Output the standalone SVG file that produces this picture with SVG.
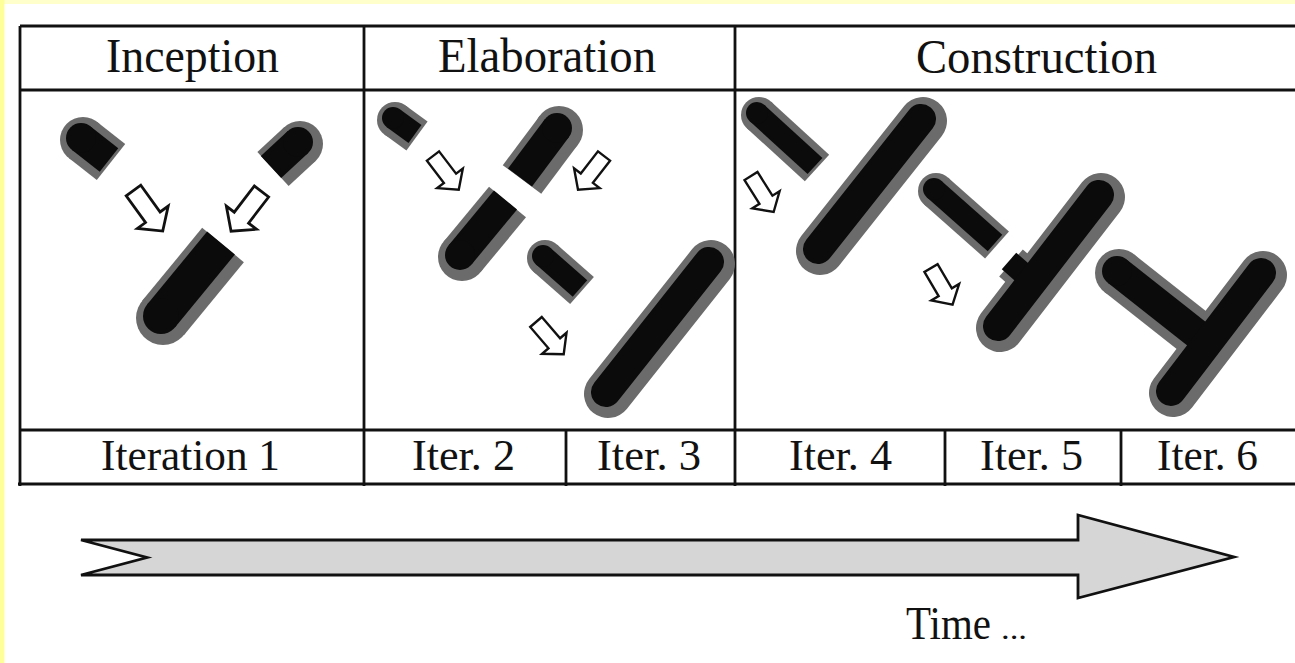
<svg xmlns="http://www.w3.org/2000/svg" xmlns:xlink="http://www.w3.org/1999/xlink" width="1295" height="663" viewBox="0 0 1295 663">
  <style>
    .txt { font-family: "Liberation Serif", "Times New Roman", serif; fill: #111; }
    .hdr { font-size: 48px; }
    .lbl { font-size: 45px; }
    .grid { stroke: #111; stroke-width: 2.8; fill: none; }
    .gy { fill: none; stroke: #6b6b6b; stroke-linecap: butt; marker-start: url(#capG); }
    .bk { fill: none; stroke: #0b0b0b; stroke-linecap: butt; marker-start: url(#capK); }
    .gy.r, .bk.r { stroke-linecap: round; marker-start: none; }
    .gy.n, .bk.n { marker-start: none; }
    .ar { fill: #fff; stroke: #111; stroke-width: 2.8; stroke-linejoin: miter; }
    .time { fill: #d6d6d6; stroke: #111; stroke-width: 2.8; stroke-linejoin: miter; }
  </style>
  <defs>
    <!-- round end for one side of a bar; scales with the stroke width -->
    <marker id="capG" viewBox="-1 -1 2 2" markerWidth="1" markerHeight="1" markerUnits="strokeWidth" overflow="visible">
      <circle r="1" fill="#6b6b6b"/>
    </marker>
    <marker id="capK" viewBox="-1 -1 2 2" markerWidth="1" markerHeight="1" markerUnits="strokeWidth" overflow="visible">
      <circle r="1" fill="#0b0b0b"/>
    </marker>
    <!-- hollow block arrow, tail at origin, pointing along +x -->
    <path id="arw" d="M0 -9 L33 -9 L33 -19 L50 0 L33 19 L33 9 L0 9 Z"/>
  </defs>

  <rect x="0" y="0" width="1295" height="663" fill="#fff"/>
  <rect x="0" y="0" width="1295" height="4" fill="#ffffcc"/>
  <rect x="0" y="0" width="4.5" height="663" fill="#ffff99"/>

  <!-- table grid -->
  <g id="grid" class="grid">
    <line x1="20" y1="26" x2="1295" y2="26"/>
    <line x1="20" y1="90" x2="1295" y2="90"/>
    <line x1="20" y1="430" x2="1295" y2="430"/>
    <line x1="18" y1="484" x2="1295" y2="484"/>
    <line x1="20" y1="26" x2="20" y2="486"/>
    <line x1="364" y1="26" x2="364" y2="486"/>
    <line x1="735" y1="26" x2="735" y2="486"/>
    <line x1="566" y1="430" x2="566" y2="486"/>
    <line x1="945" y1="430" x2="945" y2="486"/>
    <line x1="1121" y1="430" x2="1121" y2="486"/>
  </g>

  <!-- phase headers -->
  <g id="headers" class="txt hdr">
    <text x="106" y="72" textLength="173" lengthAdjust="spacingAndGlyphs">Inception</text>
    <text x="438" y="72" textLength="218" lengthAdjust="spacingAndGlyphs">Elaboration</text>
    <text x="916" y="73" textLength="241" lengthAdjust="spacingAndGlyphs">Construction</text>
  </g>

  <!-- iteration labels -->
  <g id="iterations" class="txt lbl">
    <text x="101" y="470" textLength="179" lengthAdjust="spacingAndGlyphs">Iteration 1</text>
    <text x="412" y="470" textLength="103" lengthAdjust="spacingAndGlyphs">Iter. 2</text>
    <text x="597" y="470" textLength="104" lengthAdjust="spacingAndGlyphs">Iter. 3</text>
    <text x="789" y="470" textLength="103" lengthAdjust="spacingAndGlyphs">Iter. 4</text>
    <text x="980" y="470" textLength="103" lengthAdjust="spacingAndGlyphs">Iter. 5</text>
    <text x="1157" y="470" textLength="101" lengthAdjust="spacingAndGlyphs">Iter. 6</text>
  </g>

  <!-- Inception cell -->
  <g id="cell-inception">
    <g id="p1a">
      <path class="gy" transform="translate(2 2)" stroke-width="46" d="M81 138 L109 160"/>
      <path class="bk" stroke-width="30" d="M81 138 L109 160"/>
    </g>
    <g id="p1b">
      <path class="gy" transform="translate(2 2)" stroke-width="46" d="M298 142 L271 167"/>
      <path class="bk" stroke-width="30" d="M298 142 L271 167"/>
    </g>
    <g id="p1c">
      <path class="gy" transform="translate(2 2)" stroke-width="54" d="M161 316 L221 243"/>
      <path class="bk" stroke-width="36" d="M161 316 L221 243"/>
    </g>
    <use xlink:href="#arw" class="ar" transform="translate(133.5 190.5) rotate(54.2)"/>
    <use xlink:href="#arw" class="ar" transform="translate(261.5 191.5) rotate(127.5)"/>
  </g>

  <!-- Elaboration cell -->
  <g id="cell-elaboration">
    <g id="p2a">
      <path class="gy" transform="translate(2 2)" stroke-width="36" d="M393 118 L415 134"/>
      <path class="bk" stroke-width="22" d="M393 118 L415 134"/>
    </g>
    <g id="p2b">
      <path class="gy" transform="translate(2 2)" stroke-width="48" d="M557 128 L520 177.5"/>
      <path class="bk" stroke-width="30" d="M557 128 L520 177.5"/>
    </g>
    <g id="p2c">
      <path class="gy" transform="translate(2 2)" stroke-width="48" d="M460 255 L505.5 200"/>
      <path class="bk" stroke-width="30" d="M460 255 L505.5 200"/>
    </g>
    <g id="p2d">
      <path class="gy" transform="translate(2 2)" stroke-width="36" d="M543 256 L580 288.5"/>
      <path class="bk" stroke-width="22" d="M543 256 L580 288.5"/>
    </g>
    <g id="p2e">
      <path class="gy r" transform="translate(2 2)" stroke-width="48" d="M606 392 L709 262"/>
      <path class="bk r" stroke-width="30" d="M606 392 L709 262"/>
    </g>
    <use xlink:href="#arw" class="ar" transform="translate(433 156) rotate(52.7) scale(0.85)"/>
    <use xlink:href="#arw" class="ar" transform="translate(604 156) rotate(127.7) scale(0.85)"/>
    <use xlink:href="#arw" class="ar" transform="translate(536 322) rotate(49.3) scale(0.85)"/>
  </g>

  <!-- Construction cell -->
  <g id="cell-construction">
    <g id="p3a">
      <path class="gy" transform="translate(2 2)" stroke-width="36" d="M757 113 L815 166"/>
      <path class="bk" stroke-width="22" d="M757 113 L815 166"/>
    </g>
    <g id="p3b">
      <path class="gy r" transform="translate(2 2)" stroke-width="48" d="M818 249 L921 119"/>
      <path class="bk r" stroke-width="30" d="M818 249 L921 119"/>
    </g>
    <g id="p3c">
      <path class="gy" transform="translate(2 2)" stroke-width="36" d="M934 189 L995 243"/>
      <path class="bk" stroke-width="22" d="M934 189 L995 243"/>
    </g>
    <g id="p3d">
      <path class="gy n" transform="translate(2 2)" stroke-width="36" d="M1009 261 L1032 281"/>
      <path class="gy r" transform="translate(2 2)" stroke-width="48" d="M998 326 L1099 195"/>
      <path class="bk n" stroke-width="22" d="M1009 261 L1032 281"/>
      <path class="bk r" stroke-width="30" d="M998 326 L1099 195"/>
    </g>
    <g id="p3e">
      <path class="gy" transform="translate(2 2)" stroke-width="48" d="M1117 271 L1207 342"/>
      <path class="gy r" transform="translate(2 2)" stroke-width="48" d="M1171 391 L1261 273"/>
      <path class="bk" stroke-width="30" d="M1117 271 L1207 342"/>
      <path class="bk r" stroke-width="30" d="M1171 391 L1261 273"/>
    </g>
    <use xlink:href="#arw" class="ar" transform="translate(751 176) rotate(57.8) scale(0.85)"/>
    <use xlink:href="#arw" class="ar" transform="translate(931 268) rotate(59.5) scale(0.85)"/>
  </g>

  <!-- time arrow -->
  <g id="time-arrow">
    <path class="time" d="M81 540 L1078 540 L1078 515 L1234 557 L1078 598 L1078 575 L81 575 L147 557.5 Z"/>
    <text class="txt" x="906" y="639" font-size="47" textLength="85" lengthAdjust="spacingAndGlyphs">Time</text>
    <text class="txt" x="1001" y="639" font-size="30" textLength="26" lengthAdjust="spacingAndGlyphs">...</text>
  </g>
</svg>
